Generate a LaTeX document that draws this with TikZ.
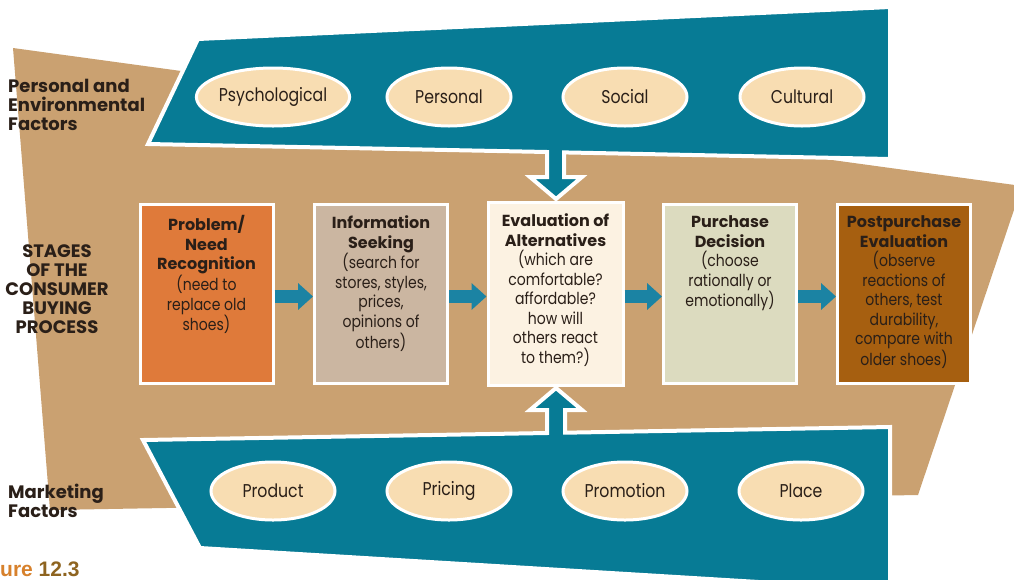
\documentclass[tikz,border=0pt]{standalone}
\usepackage{fontspec}
\setmainfont{Poppins}
\newfontfamily\bodyfont[FakeStretch=0.85]{Poppins}
\newfontfamily\headfont{Poppins}
\newfontfamily\figfont{Liberation Sans}
\usetikzlibrary{arrows.meta,shapes.geometric}

\definecolor{tanbg}{HTML}{CAA171}
\definecolor{teal}{HTML}{077B95}
\definecolor{flowblue}{HTML}{1B83A3}
\definecolor{peach}{HTML}{F8DDB2}
\definecolor{ink}{HTML}{2A1F18}
\definecolor{orangebox}{HTML}{DF7A3A}
\definecolor{greybox}{HTML}{CBB6A1}
\definecolor{creambox}{HTML}{FCF2E2}
\definecolor{sagebox}{HTML}{DCDBBF}
\definecolor{brownbox}{HTML}{A65F10}
\definecolor{figorange}{HTML}{D7812C}
\definecolor{figbrown}{HTML}{8E6420}

% title lines and body lines inside the stage boxes
\newcommand\hd{\headfont\bfseries\fontsize{16}{19.5}\selectfont}
\newcommand\bd{\bodyfont\mdseries\fontsize{16.5}{19.5}\selectfont}

\begin{document}
\begin{tikzpicture}[x=1pt,y=-1pt,
  panel/.style={fill=teal,draw=white,line width=4pt,line join=miter},
  oval/.style={ellipse,draw=white,line width=3pt,fill=peach,
    minimum width=124pt,minimum height=58pt,inner sep=0pt,text=ink,
    font=\bodyfont\fontsize{18.5}{20}\selectfont},
  stagebox/.style={draw=white,line width=3pt,minimum width=133pt,
    minimum height=179pt,inner sep=0pt},
  stagetext/.style={anchor=north,align=center,inner sep=0pt,text=ink,
    font=\bd},
  sidelabel/.style={anchor=north west,align=left,inner sep=0pt,text=ink,
    font=\headfont\bfseries\fontsize{18}{19}\selectfont},
  flow/.style={draw=flowblue,line width=13pt,
    -{Triangle[length=15pt,width=26pt]}}
]
\useasboundingbox (0,0) rectangle (1014,579);
\clip (0,0) rectangle (1014,579);
\fill[white] (0,0) rectangle (1014,579);

% tan band behind everything
\fill[tanbg] (13,48) -- (1022,186) -- (918,495) -- (50,510) -- cycle;

% upper panel with its arrow pointing down
\draw[panel] (198,39) -- (890,7) -- (890,159) -- (564,152.4) -- (564,177)
  -- (582,177) -- (556,199) -- (530,177) -- (547,177) -- (547,152)
  -- (148,144) -- cycle;

% lower panel with its arrow pointing up
\draw[panel] (143,440) -- (547,433) -- (547,410) -- (530,410) -- (556,388)
  -- (582,410) -- (565,410) -- (565,432.7) -- (890,427) -- (890,590)
  -- (200,548) -- cycle;

% factor ovals
\node[oval] (psy)  at (273,97)  {Psychological};
\node[oval] (pers) at (449,97)  {Personal};
\node[oval] (soc)  at (625,97)  {Social};
\node[oval] (cult) at (802,97)  {Cultural};
\node[oval] (prod) at (273,491) {Product};
\node[oval] (pric) at (449,491) {Pricing};
\node[oval] (prom) at (625,491) {Promotion};
\node[oval] (plac) at (801,491) {Place};

% side labels
\node[sidelabel] (envlab) at (8,79) {Personal and\\Environmental\\Factors};
\node[sidelabel,anchor=north,align=center] (stglab) at (57,244)
  {STAGES\\OF THE\\CONSUMER\\BUYING\\PROCESS};
\node[sidelabel] (mktlab) at (8,484) {Marketing\\Factors};

% stage boxes
\node[stagebox,fill=orangebox] (s1) at (206.5,293.5) {};
\node[stagebox,fill=greybox]   (s2) at (381,293.5)   {};
\node[stagebox,minimum width=135pt,minimum height=183pt,fill=creambox] (s3) at (555.5,293.5) {};
\node[stagebox,fill=sagebox]   (s4) at (730,293.5)   {};
\node[stagebox,fill=brownbox]  (s5) at (904,293.5)   {};

\node[stagetext] (t1) at ([yshift=-13pt]s1.north)
  {\hd Problem/\\\hd Need\\\hd Recognition\\(need to\\replace old\\shoes)};
\node[stagetext] (t2) at ([yshift=-13pt]s2.north)
  {\hd Information\\\hd Seeking\\(search for\\stores, styles,\\prices,\\opinions of\\others)};
\node[stagetext] (t3) at ([yshift=-13pt]s3.north)
  {\hd Evaluation of\\\hd Alternatives\\(which are\\comfortable?\\affordable?\\how will\\others react\\to them?)};
\node[stagetext] (t4) at ([yshift=-13pt]s4.north)
  {\hd Purchase\\\hd Decision\\(choose\\rationally or\\emotionally)};
\node[stagetext] (t5) at ([yshift=-13pt]s5.north)
  {\hd Postpurchase\\\hd Evaluation\\(observe\\reactions of\\others, test\\durability,\\compare with\\older shoes)};

% flow between stages
\draw[flow] ([yshift=-3pt]s1.east) -- ([yshift=-3pt]s2.west);
\draw[flow] ([yshift=-3pt]s2.east) -- ([yshift=-3pt]s3.west);
\draw[flow] ([yshift=-3pt]s3.east) -- ([yshift=-3pt]s4.west);
\draw[flow] ([yshift=-3pt]s4.east) -- ([yshift=-3pt]s5.west);

% caption fragment
\node[anchor=base west,inner sep=0pt,font=\figfont\bfseries\fontsize{21}{21}\selectfont]
  (fig) at (0,576.5) {\textcolor{figorange}{ure} \textcolor{figbrown}{12.3}};
\end{tikzpicture}
\end{document}
